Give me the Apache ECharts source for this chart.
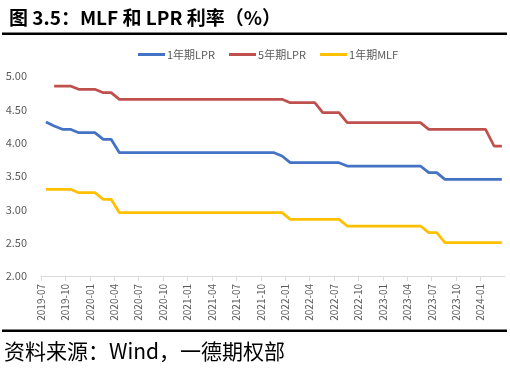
<!DOCTYPE html>
<html>
<head>
<meta charset="utf-8">
<script src="https://cdn.jsdelivr.net/npm/echarts@6/dist/echarts.min.js"></script>
<style>
html,body{margin:0;padding:0;background:#fff;}
#chart{width:510px;height:372px;}
</style>
</head>
<body>
<div id="chart"></div>
<script>
// Monthly observations (LPR fixing on the 20th of each month)
var MONTHS = ['2019-07','2019-08','2019-09','2019-10','2019-11','2019-12',
  '2020-01','2020-02','2020-03','2020-04','2020-05','2020-06','2020-07','2020-08','2020-09','2020-10','2020-11','2020-12',
  '2021-01','2021-02','2021-03','2021-04','2021-05','2021-06','2021-07','2021-08','2021-09','2021-10','2021-11','2021-12',
  '2022-01','2022-02','2022-03','2022-04','2022-05','2022-06','2022-07','2022-08','2022-09','2022-10','2022-11','2022-12',
  '2023-01','2023-02','2023-03','2023-04','2023-05','2023-06','2023-07','2023-08','2023-09','2023-10','2023-11','2023-12',
  '2024-01','2024-02','2024-03'];
var OBS_DAY = 20;

var LPR_1Y = [4.31,4.25,4.20,4.20,4.15,4.15,
  4.15,4.05,4.05,3.85,3.85,3.85,3.85,3.85,3.85,3.85,3.85,3.85,
  3.85,3.85,3.85,3.85,3.85,3.85,3.85,3.85,3.85,3.85,3.85,3.80,
  3.70,3.70,3.70,3.70,3.70,3.70,3.70,3.65,3.65,3.65,3.65,3.65,
  3.65,3.65,3.65,3.65,3.65,3.55,3.55,3.45,3.45,3.45,3.45,3.45,
  3.45,3.45,3.45];

var LPR_5Y = [null,4.85,4.85,4.85,4.80,4.80,
  4.80,4.75,4.75,4.65,4.65,4.65,4.65,4.65,4.65,4.65,4.65,4.65,
  4.65,4.65,4.65,4.65,4.65,4.65,4.65,4.65,4.65,4.65,4.65,4.65,
  4.60,4.60,4.60,4.60,4.45,4.45,4.45,4.30,4.30,4.30,4.30,4.30,
  4.30,4.30,4.30,4.30,4.30,4.20,4.20,4.20,4.20,4.20,4.20,4.20,
  4.20,3.95,3.95];

var MLF_1Y = [3.30,3.30,3.30,3.30,3.25,3.25,
  3.25,3.15,3.15,2.95,2.95,2.95,2.95,2.95,2.95,2.95,2.95,2.95,
  2.95,2.95,2.95,2.95,2.95,2.95,2.95,2.95,2.95,2.95,2.95,2.95,
  2.85,2.85,2.85,2.85,2.85,2.85,2.85,2.75,2.75,2.75,2.75,2.75,
  2.75,2.75,2.75,2.75,2.75,2.65,2.65,2.50,2.50,2.50,2.50,2.50,
  2.50,2.50,2.50];

var SERIES_NAMES = ['1年期LPR','5年期LPR','1年期MLF'];
var TICK_LABELS = ['2019-07','2019-10','2020-01','2020-04','2020-07','2020-10',
  '2021-01','2021-04','2021-07','2021-10','2022-01','2022-04','2022-07','2022-10',
  '2023-01','2023-04','2023-07','2023-10','2024-01'];
var AXIS_START = '2019-07';
var AXIS_END = '2024-04';
var TICK_STEP_MONTHS = 3;
var Y_TICKS = {min:2, max:5, interval:0.5};

var TITLE = '图 3.5：MLF 和 LPR 利率（%）';
var SOURCE = '资料来源：Wind，一德期权部';

// convert a calendar date into "months since AXIS_START" (continuous time scale)
function monthsFromStart(ym, day){
  var a = AXIS_START.split('-'), p = ym.split('-');
  var y = +p[0], m = +p[1];
  var whole = (y - +a[0]) * 12 + (m - +a[1]);
  var dim = new Date(y, m, 0).getDate();
  return whole + (day - 1) / dim;
}
function build(vals){ return MONTHS.map(function(m,i){ return [monthsFromStart(m, OBS_DAY), vals[i]]; }); }

var chart = echarts.init(document.getElementById('chart'), null, {renderer:'canvas'});
var FONT = 'Noto Sans CJK SC';
var colors = ['#4472C4','#C0504D','#FFC000'];
var datasets = [LPR_1Y, LPR_5Y, MLF_1Y];

chart.setOption({
  animation:false,
  backgroundColor:'#fff',
  color: colors,
  title:{
    text: TITLE, left: 4, top: 3,
    textStyle:{fontFamily:FONT, fontSize:19, fontWeight:'bold', color:'#000'}
  },
  legend:{
    top: 44, left: 133,
    itemWidth: 27, itemHeight: 3, itemGap: 14,
    icon:'rect',
    textStyle:{fontFamily:FONT, fontSize:11, color:'#595959', padding:[0,0,0,-3]},
    data: SERIES_NAMES
  },
  grid:{left:41, right:5, top:76, bottom:96, containLabel:false},
  xAxis:{
    type:'value',
    min: 0, max: monthsFromStart(AXIS_END, 1), interval: TICK_STEP_MONTHS,
    axisLine:{show:true, lineStyle:{color:'#D9D9D9', width:1}},
    axisTick:{show:true, length:5, lineStyle:{color:'#D9D9D9'}},
    axisLabel:{
      rotate: 90, margin: 8, showMaxLabel:false,
      fontFamily: FONT, fontSize: 10, color:'#595959',
      formatter:function(v){ var k = Math.round(v / TICK_STEP_MONTHS); return TICK_LABELS[k] || ''; }
    },
    splitLine:{show:false}
  },
  yAxis:{
    type:'value', min:Y_TICKS.min, max:Y_TICKS.max, interval:Y_TICKS.interval,
    axisLine:{show:false}, axisTick:{show:false}, splitLine:{show:false},
    axisLabel:{margin:14, fontFamily:FONT, fontSize:11, color:'#595959',
      formatter:function(v){ return v.toFixed(2); }}
  },
  series: SERIES_NAMES.map(function(n,i){
    return {
      name:n, type:'line', data: build(datasets[i]),
      symbol:'none', showSymbol:false, smooth:false,
      lineStyle:{width:2.75, color:colors[i]},
      itemStyle:{color:colors[i]}
    };
  }),
  graphic:[
    {type:'line', shape:{x1:2,y1:33.7,x2:507,y2:33.7}, style:{stroke:'#000', lineWidth:2.5}, silent:true},
    {type:'line', shape:{x1:2,y1:330.7,x2:507,y2:330.7}, style:{stroke:'#000', lineWidth:2.5}, silent:true},
    {type:'text', left:4, top:341, style:{text:SOURCE, font:'21px "Noto Sans CJK SC"', fill:'#000'}, silent:true}
  ]
});
</script>
</body>
</html>
